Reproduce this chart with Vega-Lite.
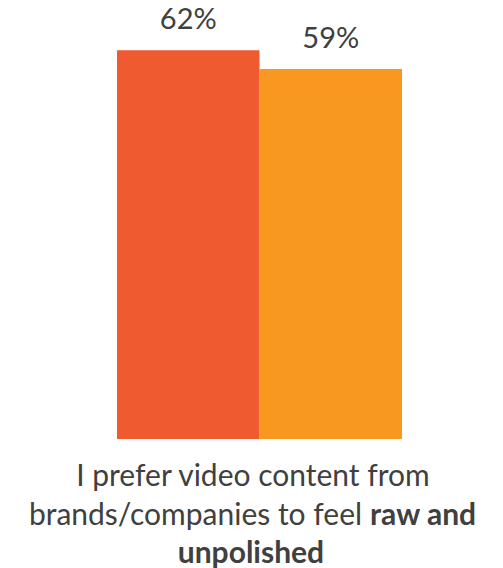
{
  "$schema": "https://vega.github.io/schema/vega-lite/v6.json",
  "width": 285,
  "height": 439,
  "autosize": "none",
  "padding": {"left": 117, "right": 101, "top": 0, "bottom": 129},
  "background": "white",
  "config": {"view": {"stroke": null}, "font": "Lato"},
  "layer": [
    {
      "data": {"values": [
        {"group": "A", "value": 62, "label": "62%"},
        {"group": "B", "value": 59, "label": "59%"}
      ]},
      "encoding": {
        "x": {"field": "group", "type": "nominal", "sort": null, "axis": null,
              "scale": {"paddingInner": 0, "paddingOuter": 0}},
        "y": {"field": "value", "type": "quantitative", "axis": null,
              "scale": {"domain": [0, 70], "nice": false}}
      },
      "layer": [
        {
          "mark": {"type": "bar"},
          "encoding": {
            "color": {"field": "group", "type": "nominal", "legend": null,
                      "scale": {"domain": ["A", "B"], "range": ["#F05A30", "#F89820"]}}
          }
        },
        {
          "mark": {"type": "text", "baseline": "alphabetic", "dy": -21, "fontSize": 29, "color": "#404040"},
          "encoding": {"text": {"field": "label"}}
        }
      ]
    },
    {
      "data": {"values": [
        {"line": 1, "part": "center", "text": "I prefer video content from"},
        {"line": 2, "part": "left", "text": "brands/companies to feel"},
        {"line": 2, "part": "right", "text": "raw and"},
        {"line": 3, "part": "centerbold", "text": "unpolished"}
      ]},
      "encoding": {
        "y": {"field": "line", "type": "quantitative", "axis": null,
              "scale": {"domain": [1, 3], "range": [486, 563], "zero": false, "nice": false}},
        "text": {"field": "text"}
      },
      "layer": [
        {
          "transform": [{"filter": "datum.part === 'center'"}],
          "mark": {"type": "text", "baseline": "alphabetic", "align": "center", "fontSize": 30, "color": "#404040"},
          "encoding": {"x": {"datum": 0.477, "type": "quantitative", "axis": null, "scale": {"domain": [0, 1], "zero": false, "nice": false}}}
        },
        {
          "transform": [{"filter": "datum.part === 'left'"}],
          "mark": {"type": "text", "baseline": "alphabetic", "align": "right", "fontSize": 30, "color": "#404040"},
          "encoding": {"x": {"datum": 0.860, "type": "quantitative", "axis": null, "scale": {"domain": [0, 1], "zero": false, "nice": false}}}
        },
        {
          "transform": [{"filter": "datum.part === 'right'"}],
          "mark": {"type": "text", "baseline": "alphabetic", "align": "left", "fontSize": 30, "fontWeight": "bold", "color": "#404040"},
          "encoding": {"x": {"datum": 0.888, "type": "quantitative", "axis": null, "scale": {"domain": [0, 1], "zero": false, "nice": false}}}
        },
        {
          "transform": [{"filter": "datum.part === 'centerbold'"}],
          "mark": {"type": "text", "baseline": "alphabetic", "align": "center", "fontSize": 30, "fontWeight": "bold", "color": "#404040"},
          "encoding": {"x": {"datum": 0.470, "type": "quantitative", "axis": null, "scale": {"domain": [0, 1], "zero": false, "nice": false}}}
        }
      ]
    }
  ],
  "resolve": {"scale": {"x": "independent", "y": "independent", "color": "independent"}}
}
